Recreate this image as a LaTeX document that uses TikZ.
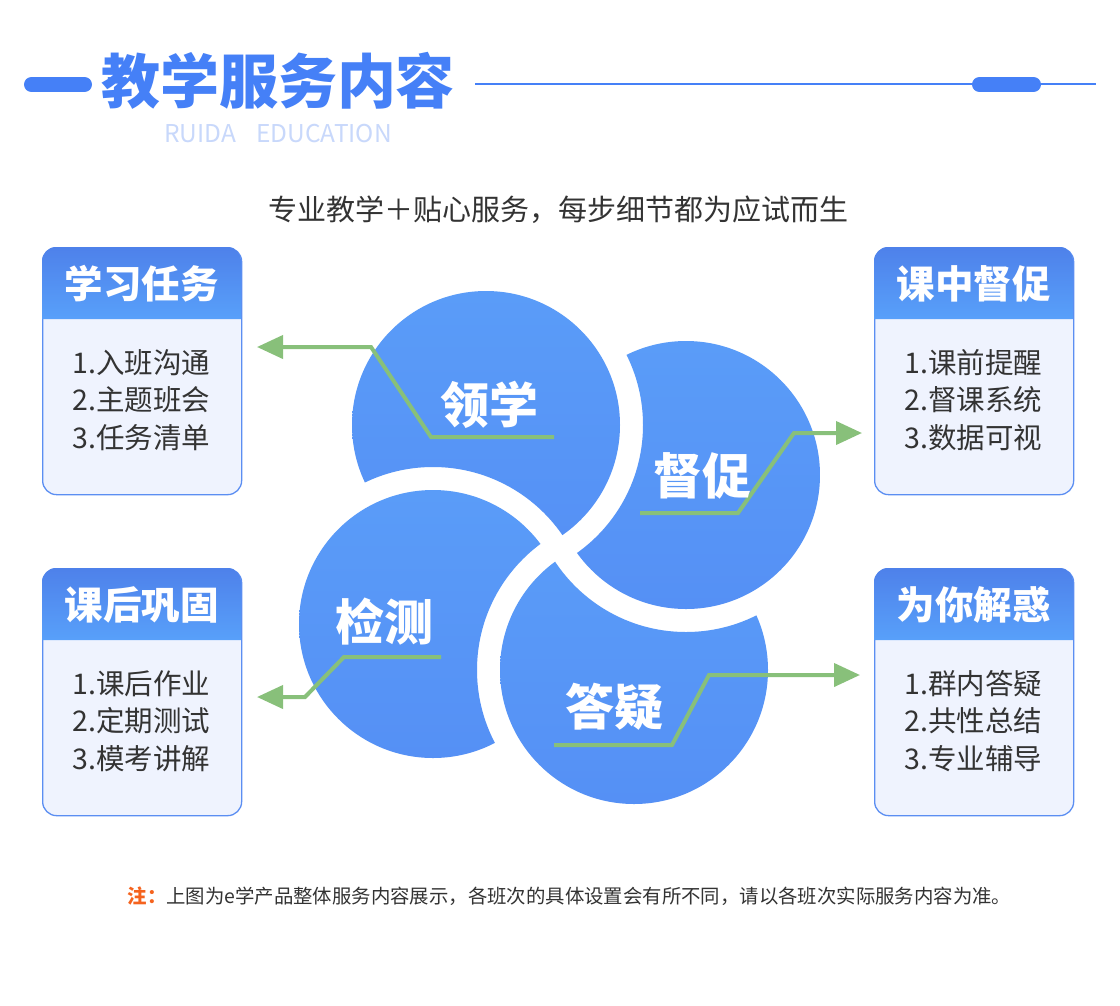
\documentclass[tikz,border=0pt]{standalone}
\usepackage{fontspec}
\setmainfont{Noto Sans CJK SC}
\usetikzlibrary{arrows.meta,calc}
\definecolor{tblue}{HTML}{4580F7}
\definecolor{sublight}{HTML}{C8D8FB}
\definecolor{txt}{HTML}{333333}
\definecolor{ctop}{HTML}{5A9CF8}
\definecolor{cbot}{HTML}{5590F5}
\definecolor{gline}{HTML}{88C07A}
\definecolor{hdtop}{HTML}{4E81EA}
\definecolor{hdbot}{HTML}{58A0FA}
\definecolor{bodyc}{HTML}{EFF3FE}
\definecolor{borderc}{HTML}{5B8EF2}
\definecolor{noteor}{HTML}{F5631E}
% visible blue disc #1, cut by the white ring (outer disc) of the circle #2 lying above it
\newcommand\bubble[2]{%
  \begin{scope}[even odd rule]
    \clip (-100,-100) rectangle (1300,1200) (#2) circle (157);
    \shade[disc] (#1) circle (134);
  \end{scope}}
\newcommand\infobox[6]{%
  \node[boxbody, anchor=north west] (#1) at (#2,#3) {};
  \shade[boxhead] (#2,#3+72) [rounded corners=14pt] -- (#2,#3) -- (#2+199,#3) [sharp corners] -- (#2+199,#3+72) -- cycle;
  \node[boxtitle] (#1-title) at (#2+99.5,#3+37) {#4};
  \node[boxitems] (#1-items) at (#2+99.5,#3+153) {#5\\#6};
}
\begin{document}
\begin{tikzpicture}[x=1pt,y=-1pt,
  disc/.style={top color=ctop, bottom color=cbot},
  garrow/.style={draw=gline, line width=4pt, -{Triangle[length=26pt,width=23pt]}, line join=miter},
  clabel/.style={text=white, font=\fontsize{49}{49}\selectfont\bfseries, inner sep=0pt},
  boxbody/.style={minimum width=199pt, minimum height=247pt, inner sep=0pt, rounded corners=14pt, fill=bodyc, draw=borderc, line width=1.3pt},
  boxhead/.style={top color=hdtop, bottom color=hdbot},
  boxtitle/.style={text=white, font=\fontsize{38.5}{38.5}\selectfont\bfseries, inner sep=0pt},
  boxitems/.style={text=txt, font=\fontsize{28.5}{37.5}\selectfont, align=center, inner sep=0pt},
  pill/.style={draw=tblue, line width=15pt, line cap=round},
]
\fill[white] (0,0) rectangle (1120,1005);
\useasboundingbox (0,0) rectangle (1120,1005);

% header
\coordinate (pl1) at (31.5,84.5); \coordinate (pl2) at (84.5,84.5);
\draw[pill] (pl1) -- (pl2);
\coordinate (ln1) at (475,84.3); \coordinate (ln2) at (1096,84.3);
\draw[draw=tblue, line width=2.2pt] (ln1) -- (ln2);
\coordinate (pr1) at (979.5,84.5); \coordinate (pr2) at (1033.5,84.5);
\draw[pill] (pr1) -- (pr2);
\node[text=tblue, font=\fontsize{59}{59}\selectfont\bfseries, inner sep=0pt] (title) at (278,80.5) {教学服务内容};
\node[text=sublight, font=\fontsize{24.5}{24.5}\selectfont, inner sep=0pt] (sub) at (278,134) {RUIDA\hspace{20pt}EDUCATION};
\node[text=txt, font=\fontsize{29}{29}\selectfont, inner sep=0pt] (slogan) at (558.5,210) {专业教学＋贴心服务，每步细节都为应试而生};

% circles (cyclic overlap: A over B over C over D over A)
\coordinate (cA) at (486,425);
\coordinate (cB) at (686,475);
\coordinate (cC) at (634,670);
\coordinate (cD) at (433,624);
\bubble{cA}{cD}
\bubble{cB}{cA}
\bubble{cC}{cB}
\bubble{cD}{cC}

% arrows
\coordinate (a1s) at (554,437); \coordinate (a1b) at (431,437); \coordinate (a1c) at (371,347); \coordinate (a1e) at (257,347);
\coordinate (a2s) at (640,513); \coordinate (a2b) at (738,513); \coordinate (a2c) at (794,433); \coordinate (a2e) at (862,433);
\coordinate (a3s) at (441,657); \coordinate (a3b) at (344,657); \coordinate (a3c) at (305,697); \coordinate (a3e) at (257,697);
\coordinate (a4s) at (554,745); \coordinate (a4b) at (672,745); \coordinate (a4c) at (709,675); \coordinate (a4e) at (860,675);
\draw[garrow] (a1s) -- (a1b) -- (a1c) -- (a1e);
\draw[garrow] (a2s) -- (a2b) -- (a2c) -- (a2e);
\draw[garrow] (a3s) -- (a3b) -- (a3c) -- (a3e);
\draw[garrow] (a4s) -- (a4b) -- (a4c) -- (a4e);

% circle labels
\node[clabel] (lA) at (489,405) {领学};
\node[clabel] (lB) at (702,476) {督促};
\node[clabel] (lD) at (384,622) {检测};
\node[clabel] (lC) at (614,707) {答疑};

% boxes
\infobox{bxLT}{42}{247}{学习任务}{1.入班沟通\\2.主题班会}{3.任务清单}
\infobox{bxRT}{874}{247}{课中督促}{1.课前提醒\\2.督课系统}{3.数据可视}
\infobox{bxLB}{42}{568}{课后巩固}{1.课后作业\\2.定期测试}{3.模考讲解}
\infobox{bxRB}{874}{568}{为你解惑}{1.群内答疑\\2.共性总结}{3.专业辅导}

% note
\node[text=txt, font=\fontsize{19.4}{19.4}\selectfont, inner sep=0pt] (note) at (569.5,896) {{\bfseries\color{noteor}注：}上图为e学产品整体服务内容展示，各班次的具体设置会有所不同，请以各班次实际服务内容为准。};
\end{tikzpicture}
\end{document}
